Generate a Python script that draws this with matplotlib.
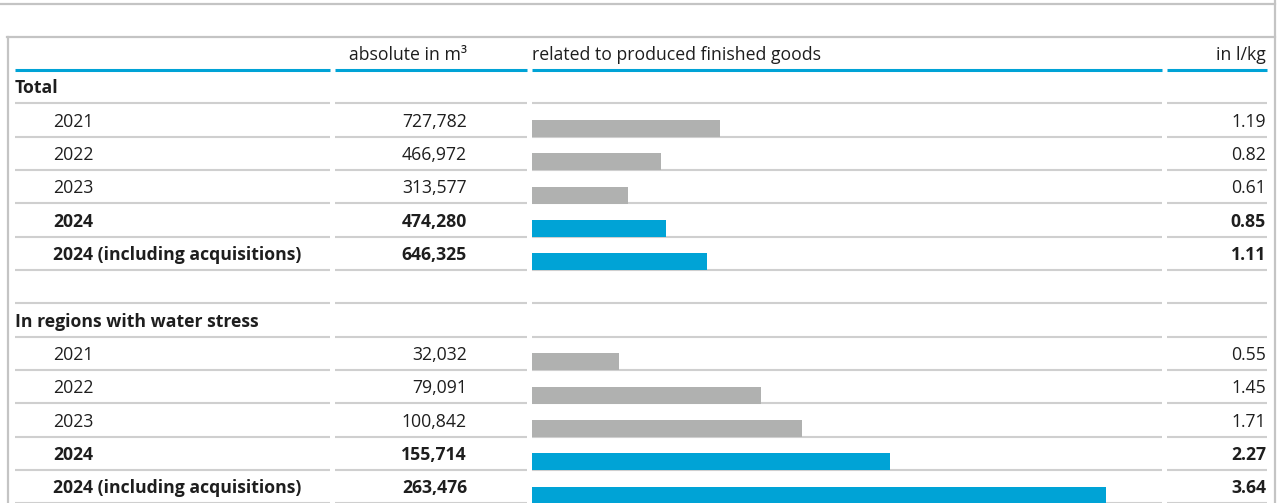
import matplotlib.pyplot as plt

# table data
row_labels = ['Total', '2021', '2022', '2023', '2024', '2024 (including acquisitions)', '',
              'In regions with water stress', '2021', '2022', '2023', '2024', '2024 (including acquisitions)']
absolute = ['', '727,782', '466,972', '313,577', '474,280', '646,325', '',
            '', '32,032', '79,091', '100,842', '155,714', '263,476']
ratio = [None, 1.19, 0.82, 0.61, 0.85, 1.11, None,
         None, 0.55, 1.45, 1.71, 2.27, 3.64]
kind = ['head', 'old', 'old', 'old', 'new', 'new', 'blank',
        'head', 'old', 'old', 'old', 'new', 'new']
headers = ['absolute in m³', 'related to produced finished goods', 'in l/kg']

W, H = 1282, 503
blue = '#00a3d6'
grey_bar = '#b0b1b0'
line_c = '#cfcfcf'
txt_c = '#1e1e1e'

plt.rcParams['font.family'] = ['Open Sans', 'DejaVu Sans']
fig = plt.figure(figsize=(W / 100, H / 100), dpi=100)
ax = fig.add_axes([0, 0, 1, 1])
ax.set_xlim(0, W)
ax.set_ylim(H, 0)
ax.axis('off')

# outer frame
ax.plot([0, 1275], [4, 4], color='#c4c4c4', lw=1.6)
ax.plot([1274.5, 1274.5], [0, H], color='#c4c4c4', lw=1.6)
ax.plot([7.5, 7.5], [37, H], color='#c4c4c4', lw=1.6)
ax.plot([7, 1275], [37, 37], color='#c4c4c4', lw=1.6)

cols = [(15, 330), (335, 527), (532, 1162), (1167, 1267)]
row_h = 33.33
top = 70
fs = 12.7
base = 6.8  # baseline offset below row centre

# header
hy = 53.5 + base
ax.text(467, hy, headers[0], ha='right', va='baseline', fontsize=fs, color=txt_c)
ax.text(532, hy, headers[1], ha='left', va='baseline', fontsize=fs, color=txt_c)
ax.text(1266, hy, headers[2], ha='right', va='baseline', fontsize=fs, color=txt_c)
for x0, x1 in cols:
    ax.plot([x0, x1], [top, top], color=blue, lw=2.2, solid_capstyle='butt')

for i, lab in enumerate(row_labels):
    y0 = top + i * row_h
    yc = y0 + row_h / 2
    y1 = y0 + row_h
    for x0, x1 in cols:
        ax.plot([x0, x1], [y1, y1], color=line_c, lw=1.5, solid_capstyle='butt')
    bold = kind[i] in ('head', 'new')
    w = 'bold' if bold else 'normal'
    lx = 15 if kind[i] == 'head' else 53
    ax.text(lx, yc + base, lab, ha='left', va='baseline', fontsize=fs, color=txt_c, fontweight=w)
    ax.text(467, yc + base, absolute[i], ha='right', va='baseline', fontsize=fs, color=txt_c, fontweight=w)
    if ratio[i] is not None:
        ax.text(1266, yc + base, f'{ratio[i]:.2f}', ha='right', va='baseline', fontsize=fs,
                color=txt_c, fontweight=w)

# bars in their own axes, x in l/kg
bx0, bx1 = 532, 1162
bax = fig.add_axes([bx0 / W, 0, (bx1 - bx0) / W, 1])
bax.set_xlim(0, (bx1 - bx0) / 157.8)
bax.set_ylim(H, 0)
bax.axis('off')
bar_h = 17
for i, v in enumerate(ratio):
    if v is None:
        continue
    yc = top + i * row_h + row_h / 2
    c = blue if kind[i] == 'new' else grey_bar
    bax.barh(yc + bar_h / 2, v, height=bar_h, color=c, left=0)

fig.savefig('out.png', dpi=100)
